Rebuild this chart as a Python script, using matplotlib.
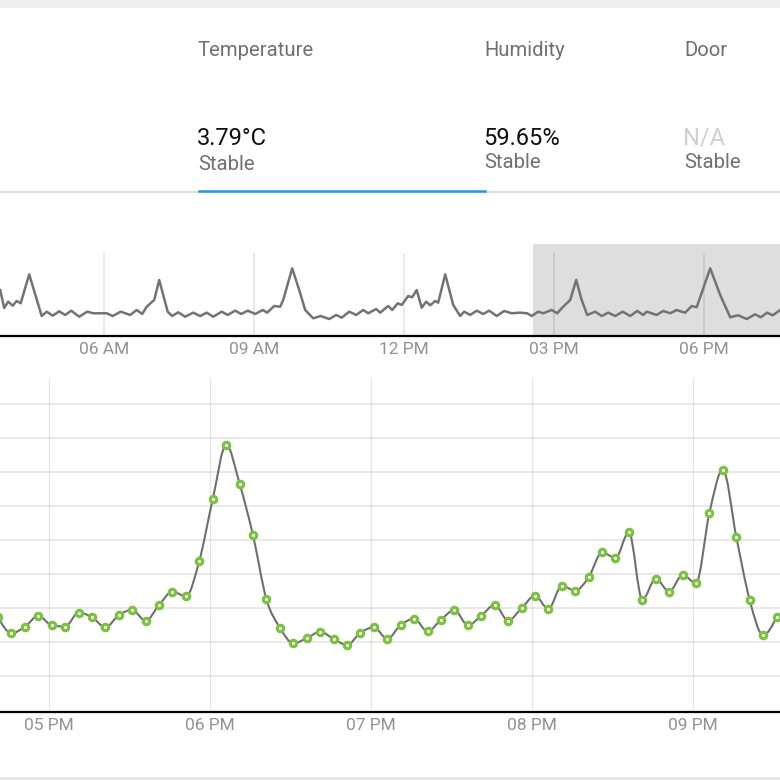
import numpy as np
import matplotlib
matplotlib.use('Agg')
import matplotlib.pyplot as plt
from matplotlib.path import Path
from matplotlib.patches import PathPatch

plt.rcParams['font.family'] = ['Roboto', 'DejaVu Sans']

# header tiles
tile_names = ['Temperature', 'Humidity', 'Door']
tile_values = ['3.79°C', '59.65%', 'N/A']
tile_states = ['Stable', 'Stable', 'Stable']

# overview strip (hours of day, temperature)
ov_t = [3.93, 4.01, 4.09, 4.18, 4.26, 4.34, 4.51, 4.76, 4.86, 4.98,
        5.11, 5.23, 5.35, 5.51, 5.67, 5.79, 6.06, 6.18, 6.34, 6.53,
        6.66, 6.77, 6.86, 7.01, 7.11, 7.28, 7.37, 7.49, 7.63, 7.79,
        7.93, 8.06, 8.19, 8.36, 8.48, 8.63, 8.75, 8.88, 9.03, 9.18,
        9.27, 9.41, 9.53, 9.59, 9.77, 9.91, 10.03, 10.19, 10.34, 10.51,
        10.65, 10.76, 10.91, 11.05, 11.19, 11.29, 11.45, 11.53, 11.69, 11.77,
        11.88, 11.96, 12.09, 12.17, 12.26, 12.36, 12.45, 12.53, 12.63, 12.69,
        12.83, 12.99, 13.13, 13.21, 13.33, 13.46, 13.59, 13.71, 13.86, 14.01,
        14.16, 14.33, 14.47, 14.56, 14.69, 14.79, 14.96, 15.07, 15.19, 15.33,
        15.45, 15.56, 15.67, 15.83, 15.96, 16.09, 16.23, 16.38, 16.53, 16.67,
        16.79, 16.86, 17.06, 17.19, 17.33, 17.46, 17.56, 17.63, 17.76, 17.86,
        18.13, 18.33, 18.53, 18.69, 18.86, 19.03, 19.14, 19.27, 19.38, 19.53]
ov_v = [5.31, 3.28, 3.99, 3.54, 4.07, 3.81, 7.08, 2.37, 2.86, 2.41,
        2.90, 2.49, 2.97, 2.29, 2.86, 2.68, 2.68, 2.37, 2.86, 2.49,
        3.05, 2.60, 3.42, 4.18, 6.44, 2.86, 2.37, 2.79, 2.29, 2.75,
        2.37, 2.75, 2.29, 2.86, 2.49, 2.97, 2.60, 2.97, 2.60, 3.05,
        2.75, 3.50, 3.42, 4.18, 7.76, 5.31, 3.05, 2.11, 2.37, 2.03,
        2.49, 2.18, 2.86, 2.49, 3.05, 2.68, 3.16, 2.75, 3.50, 3.05,
        3.81, 3.62, 4.63, 4.49, 5.31, 3.31, 3.99, 3.58, 4.07, 3.88,
        7.08, 3.62, 2.37, 2.86, 2.49, 2.97, 2.60, 2.97, 2.37, 2.94,
        2.68, 2.75, 2.68, 2.37, 2.86, 2.68, 3.05, 2.68, 3.42, 4.18,
        6.44, 4.18, 2.49, 2.86, 2.37, 2.75, 2.37, 2.86, 2.37, 2.94,
        2.49, 2.86, 2.49, 2.94, 2.68, 3.05, 2.86, 2.75, 3.50, 3.36,
        7.76, 4.75, 2.23, 2.45, 2.03, 2.56, 2.23, 2.75, 2.45, 3.05]
ov_ticks = [6, 9, 12, 15, 18]
ov_labels = ['06 AM', '09 AM', '12 PM', '03 PM', '06 PM']
ov_brush = [14.58, 19.6]

# main chart, one reading every 5 minutes from 16:41
temp = [2.74, 2.27, 2.45, 2.78, 2.50, 2.46, 2.87, 2.74, 2.44, 2.80,
        2.95, 2.63, 3.10, 3.49, 3.35, 4.40, 6.21, 7.81, 6.66, 5.14,
        3.26, 2.43, 1.97, 2.12, 2.31, 2.10, 1.92, 2.28, 2.44, 2.10,
        2.51, 2.69, 2.32, 2.66, 2.95, 2.50, 2.78, 3.10, 2.64, 3.00,
        3.37, 2.98, 3.66, 3.52, 3.91, 4.64, 4.48, 5.24, 3.25, 3.87,
        3.49, 3.98, 3.74, 5.81, 7.08, 5.10, 3.24, 2.21, 2.74]
t_main = 16 + 41 / 60 + np.arange(len(temp)) * 5 / 60
main_ticks = [17, 18, 19, 20, 21]
main_labels = ['05 PM', '06 PM', '07 PM', '08 PM', '09 PM']


def px(x, y):
    # pixel position -> figure fraction
    return x / 780, 1 - y / 780


def monotone_path(x, y):
    # smooth curve like d3 curveMonotoneX, drawn as cubic bezier segments
    x = np.asarray(x, float)
    y = np.asarray(y, float)
    h = np.diff(x)
    s = np.diff(y) / h
    t = np.zeros(len(x))
    for i in range(1, len(x) - 1):
        s0, s1, h0, h1 = s[i - 1], s[i], h[i - 1], h[i]
        p = (s0 * h1 + s1 * h0) / (h0 + h1)
        t[i] = (np.sign(s0) + np.sign(s1)) * min(abs(s0), abs(s1), 0.5 * abs(p))
    t[0] = (3 * s[0] - t[1]) / 2
    t[-1] = (3 * s[-1] - t[-2]) / 2
    verts = [(x[0], y[0])]
    codes = [Path.MOVETO]
    for i in range(len(x) - 1):
        d = h[i] / 3
        verts += [(x[i] + d, y[i] + d * t[i]), (x[i + 1] - d, y[i + 1] - d * t[i + 1]), (x[i + 1], y[i + 1])]
        codes += [Path.CURVE4] * 3
    return Path(verts, codes)


fig = plt.figure(figsize=(7.8, 7.8), dpi=100)
fig.patch.set_facecolor('white')

# page bands
fig.add_artist(plt.Rectangle(px(0, 8), 1, 8 / 780, transform=fig.transFigure, color='#eeeeee', lw=0))
fig.add_artist(plt.Rectangle(px(0, 780), 1, 3 / 780, transform=fig.transFigure, color='#e6e6e6', lw=0))

# header
xs = [198, 484, 684]
value_colors = ['#111111', '#111111', '#cfcfcf']
for i in range(3):
    fig.text(*px(xs[i], 56), tile_names[i], fontsize=14.6, color='#707070', va='baseline')
    fig.text(*px(xs[i] - 1, 145), tile_values[i], fontsize=17, color=value_colors[i], va='baseline')
    fig.text(*px(xs[i], 170 if i == 0 else 168), tile_states[i], fontsize=14.6, color='#707070', va='baseline')
fig.add_artist(plt.Line2D([0, 1], [px(0, 192)[1]] * 2, transform=fig.transFigure, color='#e0e0e0', lw=1.6))
fig.add_artist(plt.Line2D([px(199, 0)[0], px(485, 0)[0]], [px(0, 191)[1]] * 2,
                          transform=fig.transFigure, color='#1c9ce3', lw=1.8))

# overview strip
ax1 = fig.add_axes([0, px(0, 336)[1], 1, 92 / 780])
ax1.set_xlim(3.926, 19.526)
ax1.set_ylim(0.11, 10.51)
ax1.axvspan(ov_brush[0], ov_brush[1], color='#dedede', lw=0, zorder=0)
ax1.vlines(ov_ticks, 0, 0.905, transform=ax1.get_xaxis_transform(), color='k', alpha=0.1, lw=1.2, zorder=1)
ax1.plot(ov_t, ov_v, color='#737373', lw=1.8, zorder=3, solid_joinstyle='round')
ax1.set_xticks(ov_ticks)
ax1.set_xticklabels(ov_labels)
ax1.set_yticks([])

# main chart
ax2 = fig.add_axes([0, px(0, 712)[1], 1, 335 / 780])
ax2.set_xlim(16.6958, 21.538)
ax2.set_ylim(-0.05, 9.8)
ax2.set_yticks(range(1, 10))
ax2.set_yticklabels([])
ax2.grid(axis='y', color='k', alpha=0.1, lw=1.2)
ax2.vlines(main_ticks, -0.05, 9.8, color='k', alpha=0.1, lw=0.9, zorder=1)
ax2.add_patch(PathPatch(monotone_path(t_main, temp), facecolor='none', edgecolor='#6f6f6f', lw=1.5, zorder=3))
ax2.plot(t_main, temp, 'o', ms=4.6, mew=2.3, mec='#7dc142', mfc='white', zorder=4)
ax2.set_xticks(main_ticks)
ax2.set_xticklabels(main_labels)

for ax in (ax1, ax2):
    ax.set_facecolor('none')
    for side in ('top', 'left', 'right'):
        ax.spines[side].set_visible(False)
    ax.spines['bottom'].set_color('black')
    ax.spines['bottom'].set_linewidth(1.6)
    ax.spines['bottom'].set_zorder(5)
    ax.tick_params(axis='x', length=0, pad=4, labelsize=12.5, labelcolor='#929292')
    ax.tick_params(axis='y', length=0)

fig.savefig('out.png', dpi=100)
